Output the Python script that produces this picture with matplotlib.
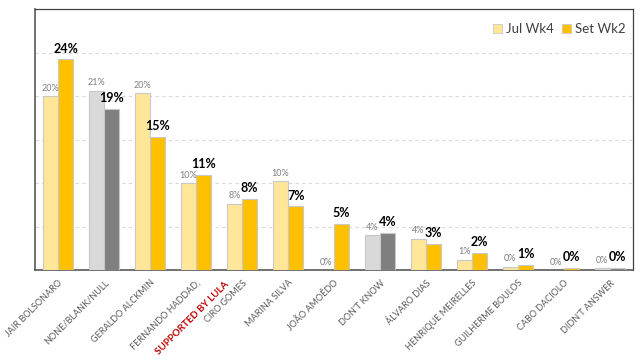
import matplotlib
matplotlib.use("Agg")
import matplotlib.pyplot as plt
import numpy as np
from matplotlib.patches import Patch

plt.rcParams['font.family'] = ['Lato', 'DejaVu Sans']

categories = ["JAIR BOLSONARO", "NONE/BLANK/NULL", "GERALDO ALCKMIN", "FERNANDO HADDAD,",
              "CIRO GOMES", "MARINA SILVA", "JOÃO AMOÊDO", "DON'T KNOW", "ÁLVARO DIAS",
              "HENRIQUE MEIRELLES", "GUILHERME BOULOS", "CABO DACIOLO", "DIDN'T ANSWER"]
haddad_note = "SUPPORTED BY LULA"
series_names = ["Jul Wk4", "Set Wk2"]
jul_values = [20.0, 20.6, 20.3, 10.0, 7.6, 10.2, 0.0, 4.0, 3.6, 1.2, 0.35, 0.0, 0.2]
set_values = [24.2, 18.5, 15.3, 10.9, 8.2, 7.3, 5.3, 4.3, 3.0, 2.0, 0.57, 0.2, 0.2]
jul_labels = ["20%", "21%", "20%", "10%", "8%", "10%", "0%", "4%", "4%", "1%", "0%", "0%", "0%"]
set_labels = ["24%", "19%", "15%", "11%", "8%", "7%", "5%", "4%", "3%", "2%", "1%", "0%", "0%"]
gray_groups = [1, 7, 12]

fig = plt.figure(figsize=(6.4, 3.61), dpi=100)
ax = fig.add_axes([35/640, 1-270/361, (633-35)/640, (270-9)/361])

x = np.arange(len(categories))
w = 0.333
jul_colors = ['#D9D9D9' if i in gray_groups else '#FFE699' for i in x]
set_colors = ['#7F7F7F' if i in gray_groups else '#FFC000' for i in x]

ax.bar(x - w/2, jul_values, w, color=jul_colors, edgecolor='#C8C8C8', linewidth=0.8, zorder=3)
ax.bar(x + w/2, set_values, w, color=set_colors, edgecolor='#C8C8C8', linewidth=0.8, zorder=3)

for i in x:
    ax.annotate(jul_labels[i], (i - w/2, jul_values[i]), xytext=(0, 2.5), textcoords='offset points',
                ha='center', va='bottom', fontsize=6.5, color='#7F7F7F')
    ax.annotate(set_labels[i], (i + w/2, set_values[i]), xytext=(0, 3.5), textcoords='offset points',
                ha='center', va='bottom', fontsize=9, color='black', fontweight='bold')

ax.set_xlim(-0.5, len(categories) - 0.5)
ax.set_ylim(0, 30)
ax.set_yticks([5, 10, 15, 20, 25])
ax.set_yticklabels([])
ax.tick_params(axis='y', length=0)
ax.yaxis.grid(True, linestyle=(0, (3, 3)), color='#D9D9D9', linewidth=0.8, zorder=0)

ax.set_xticks(x)
ax.set_xticklabels(categories, rotation=45, ha='right', va='top', rotation_mode='anchor',
                   fontsize=6.5, color='#595959')
ax.tick_params(axis='x', length=0, pad=6)

ax.annotate(haddad_note, (3, 0), xycoords=ax.get_xaxis_transform(), xytext=(20.2, -7.3),
            textcoords='offset points', rotation=45, ha='right', va='top', rotation_mode='anchor',
            fontsize=7, color='#C00000', fontweight='bold', annotation_clip=False)

for s in ['top', 'right']:
    ax.spines[s].set_color('#404040')
    ax.spines[s].set_linewidth(0.9)
for s in ['left', 'bottom']:
    ax.spines[s].set_color('#595959')
    ax.spines[s].set_linewidth(1.2)

handles = [Patch(facecolor='#FFE699', edgecolor='#C8C8C8', linewidth=0.6),
           Patch(facecolor='#FFC000', edgecolor='#C8C8C8', linewidth=0.6)]
ax.legend(handles, series_names, loc='upper right', ncol=2, frameon=False, fontsize=9.5,
          handlelength=0.7, handleheight=0.7, handletextpad=0.3, columnspacing=0.6,
          bbox_to_anchor=(1.008, 0.99), labelcolor='#404040')

fig.savefig("out.png", dpi=100)
